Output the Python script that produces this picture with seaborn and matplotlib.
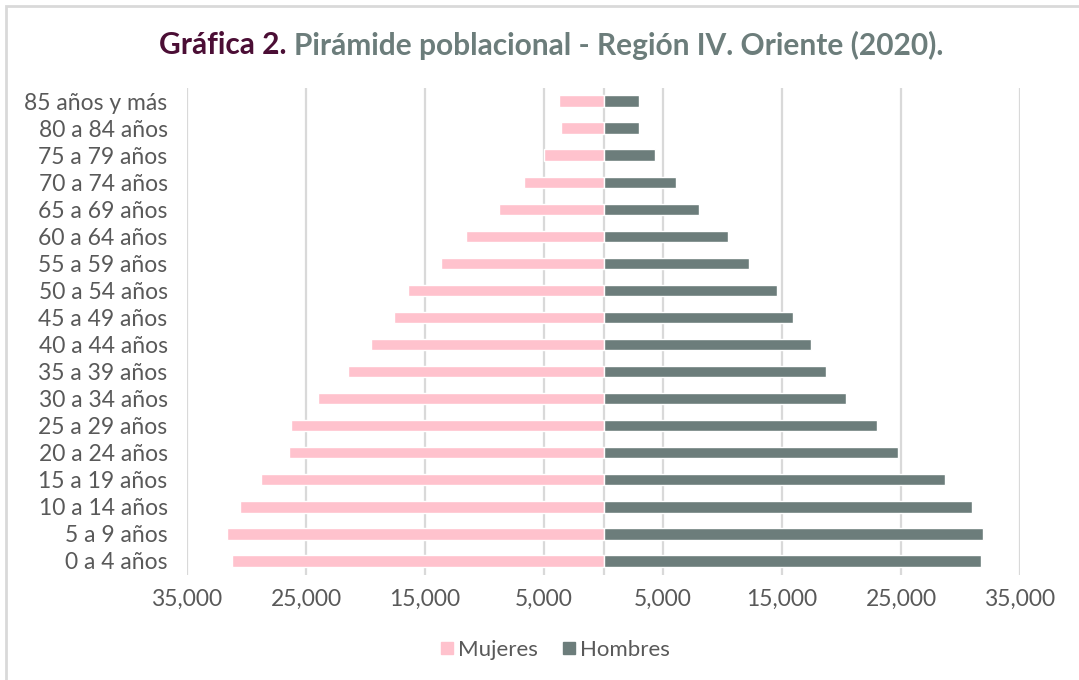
import pandas as pd
import seaborn as sns
import matplotlib.pyplot as plt
from matplotlib.patches import Rectangle
from matplotlib.lines import Line2D
from matplotlib.ticker import FuncFormatter

# datos (de arriba hacia abajo)
edades = ['85 años y más', '80 a 84 años', '75 a 79 años', '70 a 74 años', '65 a 69 años',
          '60 a 64 años', '55 a 59 años', '50 a 54 años', '45 a 49 años', '40 a 44 años',
          '35 a 39 años', '30 a 34 años', '25 a 29 años', '20 a 24 años', '15 a 19 años',
          '10 a 14 años', '5 a 9 años', '0 a 4 años']
mujeres = [3750, 3580, 4980, 6690, 8810, 11580, 13650, 16440, 17620, 19500,
           21510, 24000, 26230, 26400, 28770, 30570, 31600, 31180]
hombres = [2990, 3020, 4360, 6090, 8020, 10430, 12210, 14540, 15940, 17420,
           18730, 20390, 22950, 24770, 28660, 30960, 31930, 31740]
ticks = [-35000, -25000, -15000, -5000, 5000, 15000, 25000, 35000]

rosa = '#FFC2CD'
gris = '#6C7D7B'
texto = '#595959'

df = pd.DataFrame({
    'edad': edades * 2,
    'sexo': ['Mujeres'] * len(edades) + ['Hombres'] * len(edades),
    'valor': [-v for v in mujeres] + hombres,
})

sns.set_theme(style='white')
plt.rcParams['font.family'] = ['Lato', 'DejaVu Sans']

fig = plt.figure(figsize=(10.79, 6.8), dpi=100)
ax = fig.add_axes([187 / 1079, 1 - 574.5 / 680, (1020 - 187) / 1079, 487 / 680])

# marco del area del grafico
fig.patches.append(Rectangle((6 / 1079, -0.1), 1.2, 1 - 6 / 680 + 0.1, transform=fig.transFigure,
                             fill=False, edgecolor='#D9D9D9', linewidth=2, zorder=0))

for t in ticks:
    ax.axvline(t, color='#D9D9D9', lw=1.6, zorder=0)
ax.axvline(0, color='#D9D9D9', lw=1.6, zorder=0)

sns.barplot(data=df, x='valor', y='edad', hue='sexo', order=edades,
            hue_order=['Mujeres', 'Hombres'], palette=[rosa, gris],
            dodge=False, width=0.42, saturation=1, legend=False, ax=ax, zorder=2)

ax.set_xlim(-35000, 35000)
ax.set_ylim(17.5, -0.5)
ax.set_xticks(ticks)
ax.xaxis.set_major_formatter(FuncFormatter(lambda v, p: f'{abs(int(v)):,}'))
ax.tick_params(axis='x', length=0, pad=10, labelsize=16.5, labelcolor=texto)
ax.tick_params(axis='y', length=0, pad=14, labelsize=16.5, labelcolor=texto)
ax.set_xlabel('')
ax.set_ylabel('')
for s in ax.spines.values():
    s.set_visible(False)

# leyenda
handles = [Line2D([], [], marker='s', ls='', color=rosa, markersize=9),
           Line2D([], [], marker='s', ls='', color=gris, markersize=9)]
fig.legend(handles, ['Mujeres', 'Hombres'], loc='center', bbox_to_anchor=(554 / 1079, 1 - 650 / 680),
           ncol=2, frameon=False, fontsize=16, labelcolor=texto,
           handletextpad=0.1, columnspacing=1.0, handlelength=0.8)

# titulo en dos colores
fig.canvas.draw()
r = fig.canvas.get_renderer()
ty = 1 - 45 / 680
t1 = fig.text(0, ty, 'Gráfica 2. ', fontsize=21.5, fontweight='bold', color='#4B0E35', va='center')
t2 = fig.text(0, ty, 'Pirámide poblacional - Región IV. Oriente (2020).', fontsize=21.5,
              fontweight='bold', color=gris, va='center')
w1 = t1.get_window_extent(r).width
w2 = t2.get_window_extent(r).width
x0 = 551 - (w1 + w2) / 2
t1.set_x(x0 / 1079)
t2.set_x((x0 + w1) / 1079)

fig.savefig('out.png', dpi=100)
